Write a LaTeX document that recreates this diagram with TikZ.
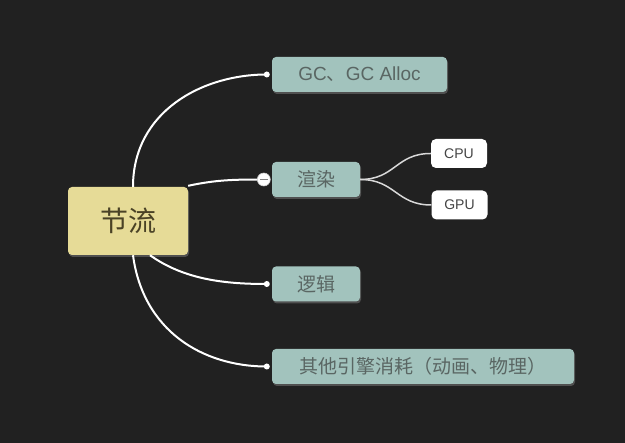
\documentclass[tikz,border=0pt]{standalone}
\usepackage{fontspec}
\setmainfont{Noto Sans CJK SC}
\newfontfamily\latinsans{Liberation Sans}
\usetikzlibrary{shadows}

\definecolor{bgdark}{HTML}{212121}
\definecolor{rootfill}{HTML}{E6DB97}
\definecolor{rootink}{HTML}{4A4226}
\definecolor{topicfill}{HTML}{A2C3BD}
\definecolor{topicink}{HTML}{5A6663}
\definecolor{subink}{HTML}{444444}

\begin{document}
\begin{tikzpicture} [
  x=1pt,
  y=-1pt,
  root/.style={fill=rootfill, text=rootink, rounded corners=4pt,
    minimum width=120pt, minimum height=68pt, font=\fontsize{28}{30}\selectfont,
    drop shadow={shadow xshift=1pt, shadow yshift=-2pt, opacity=0.5}},
  topic/.style={fill=topicfill, text=topicink, rounded corners=4pt,
    minimum height=35pt, font=\fontsize{19}{21}\selectfont,
    drop shadow={shadow xshift=1pt, shadow yshift=-2pt, opacity=0.5}},
  sub/.style={fill=white, text=subink, rounded corners=5pt,
    minimum width=56pt, minimum height=29pt, font=\latinsans\fontsize{14}{16}\selectfont},
  link/.style={draw=white, line width=2pt},
  sublink/.style={draw=white!85!black, line width=1.5pt}
  ]
  \fill[bgdark] (0,0) rectangle (625,443);
  \useasboundingbox (0,0) rectangle (625,443);

  \node(root)[root, at={(128,221)}]{节流};
  \node(gc)[topic, minimum width=175pt, at={(359.5,74.5)}]{{\latinsans GC}、{\latinsans GC Alloc}};
  \node(render)[topic, minimum width=88pt, at={(316,179.5)}]{渲染};
  \node(logic)[topic, minimum width=88pt, at={(316,284)}]{逻辑};
  \node(other)[topic, minimum width=302pt, at={(423,366.5)}]{其他引擎消耗（动画、物理）};
  \node(cpu)[sub, at={(459,153.5)}]{CPU};
  \node(gpu)[sub, at={(459.5,205)}]{GPU};

  \coordinate(gc-in) at ([xshift=-5pt]gc.west);
  \coordinate(render-in) at ([xshift=-8pt]render.west);
  \coordinate(logic-in) at ([xshift=-5pt]logic.west);
  \coordinate(other-in) at ([xshift=-5pt]other.west);

  \draw[link] ([xshift=5pt]root.north) .. controls +(0,-75) and +(-65,0) .. (gc-in);
  \draw[link] ([yshift=1pt]root.north east) .. controls +(28,-6) and +(-30,0) .. (render-in);
  \draw[link] ([xshift=22pt]root.south) .. controls +(35,25) and +(-40,0) .. (logic-in);
  \draw[link] ([xshift=5pt]root.south) .. controls +(10,75) and +(-65,0) .. (other-in);
  \draw[sublink] (render.east) .. controls +(35,0) and +(-35,0) .. (cpu.west);
  \draw[sublink] (render.east) .. controls +(35,0) and +(-35,0) .. (gpu.west);

  \fill[white] (gc-in) circle (3pt);
  \fill[white] (logic-in) circle (3pt);
  \fill[white] (other-in) circle (3pt);
  \filldraw[fill=white, draw=white!80!black, line width=0.6pt] (render-in) circle (6.5pt);
  \draw[gray, line width=1pt] ([xshift=-4pt]render-in) -- ([xshift=4pt]render-in);
\end{tikzpicture}
\end{document}
